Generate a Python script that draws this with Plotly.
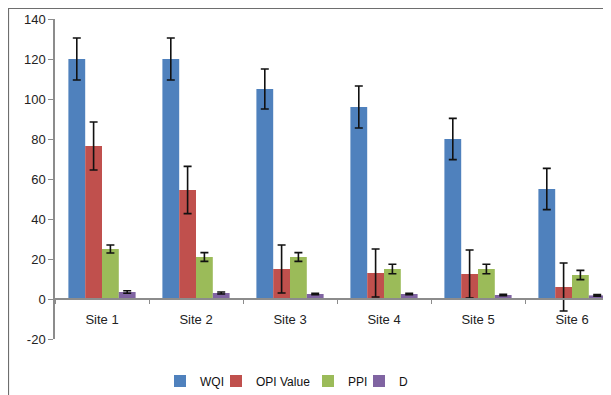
import plotly.graph_objects as go

sites = ["Site 1", "Site 2", "Site 3", "Site 4", "Site 5", "Site 6"]
wqi = [120, 120, 105, 96, 80, 55]
wqi_err = [10.5, 10.5, 10, 10.5, 10.3, 10.3]
opi = [76.5, 54.5, 15, 13, 12.5, 6]
opi_err = [12, 11.8, 12, 12, 12, 12]
ppi = [25, 21, 21, 15, 15, 12]
ppi_err = [2, 2.2, 2.2, 2.4, 2.4, 2.3]
d_vals = [3.5, 3, 2.5, 2.5, 2, 1.8]
d_err = [0.6, 0.5, 0.3, 0.3, 0.3, 0.4]

y_tick_vals = [-20, 0, 20, 40, 60, 80, 100, 120, 140]
y_tick_text = ["-20", "0", "20", "40", "60", "80", "100", "120", "140"]

series_names = ["WQI", "OPI Value", "PPI", "D"]
series_vals = [wqi, opi, ppi, d_vals]
series_errs = [wqi_err, opi_err, ppi_err, d_err]
series_colors = ["#4F81BD", "#C0504D", "#9BBB59", "#8064A2"]

# page offset of the figure (browser body margin)
OFF = 8
W, H = 611 - OFF, 395 - OFF
PL, PT, PB = 55, 19, 339          # plot area edges in page pixels
L, T = PL - OFF, PT - OFF
pw = W - L
ph = PB - PT
B = H - (PB - OFF)


def px(xp):
    return (xp - PL) / pw


def py(yp):
    return (PB - yp) / ph


legend_ids = ["legend", "legend2", "legend3", "legend4"]
legend_x_page = [160, 216, 308, 359]

fig = go.Figure()
for i in range(4):
    fig.add_trace(go.Bar(
        name=series_names[i], x=sites, y=series_vals[i],
        marker_color=series_colors[i], marker_line_width=0,
        legend=legend_ids[i], showlegend=True,
        error_y=dict(type="data", array=series_errs[i], visible=True,
                     color="#111111", thickness=1.6, width=4),
    ))

legend_common = dict(orientation="h", xanchor="left", yanchor="middle",
                     y=py(381), font=dict(size=12, color="#111111"),
                     itemwidth=30, bgcolor="rgba(0,0,0,0)")

layout_legends = {}
for i in range(4):
    layout_legends[legend_ids[i]] = dict(legend_common, x=px(legend_x_page[i]))

fig.update_layout(
    width=W, height=H, showlegend=True,
    margin=dict(l=L, r=0, t=T, b=B, pad=0, autoexpand=False),
    paper_bgcolor="white", plot_bgcolor="white",
    barmode="group", bargap=0.285, bargroupgap=0,
    font=dict(family="Liberation Sans, Arial, sans-serif", size=12, color="#222222"),
    xaxis=dict(
        type="category", range=[-0.5, -0.5 + pw / 94.0],
        anchor="free", position=40 / ph,
        showline=True, linecolor="#8c8c8c", linewidth=1.5,
        ticks="outside", tickson="boundaries", ticklen=4,
        tickcolor="#8c8c8c", ticklabelstandoff=9,
        showgrid=False, zeroline=False,
        tickfont=dict(size=13, color="#222222"),
    ),
    yaxis=dict(
        range=[-20, 140], tickvals=y_tick_vals, ticktext=y_tick_text,
        showline=True, linecolor="#8c8c8c", linewidth=1.5,
        ticks="outside", ticklen=5, tickcolor="#8c8c8c",
        showgrid=False, zeroline=False,
        tickfont=dict(size=13, color="#222222"),
    ),
    **layout_legends,
)

# outer chart border (left and top edges visible in the reference)
x0 = px(8.5)
ytop = py(8.5)
ybot = py(400)
fig.add_shape(type="path", xref="paper", yref="paper",
              path=f"M {x0},{ybot} L {x0},{ytop} L 1.1,{ytop}",
              line=dict(color="#6e6e6e", width=1.2))

fig.write_html("out.html")
